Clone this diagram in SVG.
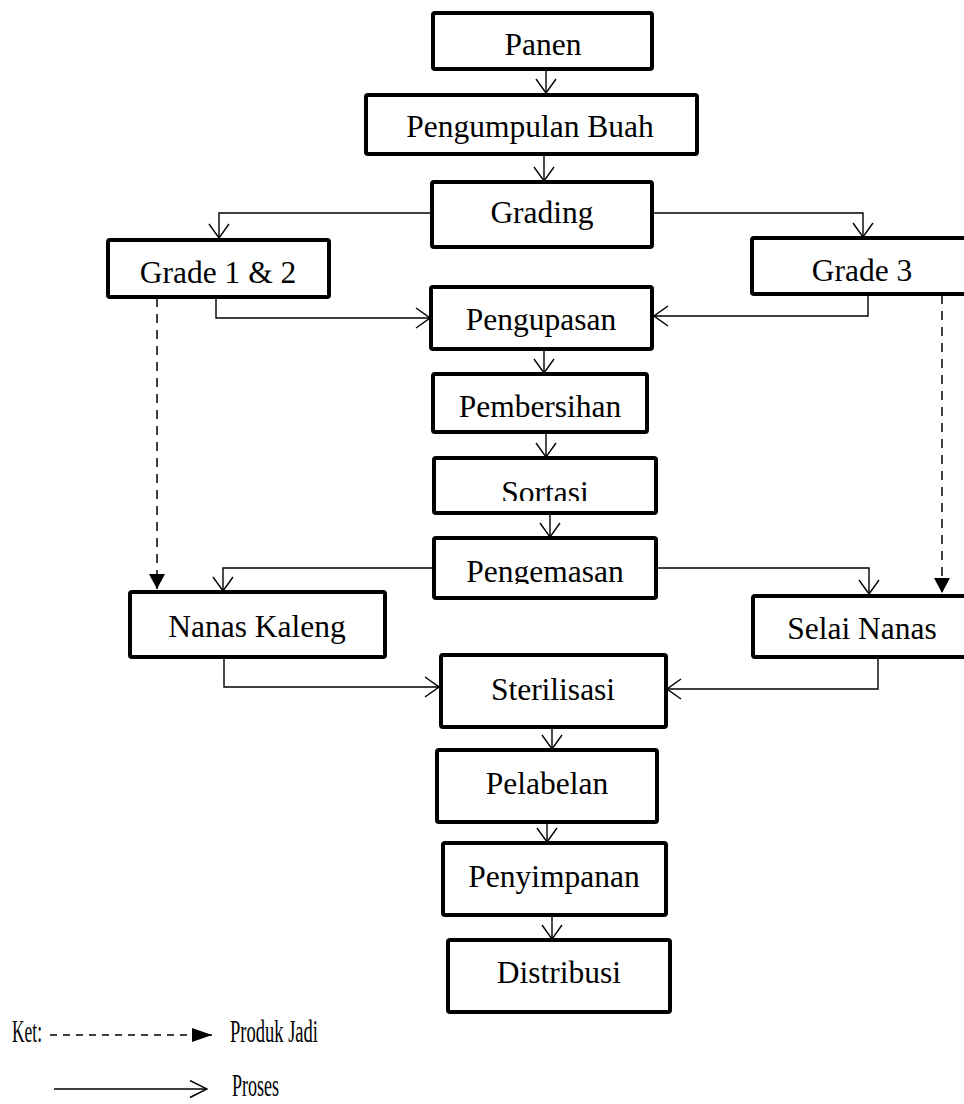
<svg xmlns="http://www.w3.org/2000/svg" width="964" height="1104" viewBox="0 0 964 1104">
<style>
.box{fill:#fff;stroke:#000;stroke-width:4;stroke-linejoin:round}
.t{font-family:"Liberation Serif","Times New Roman",serif;font-size:31.5px;fill:#000;text-anchor:middle}
.lg{font-family:"Liberation Serif","Times New Roman",serif;font-size:31px;fill:#000}
.c{fill:none;stroke:#000;stroke-width:1.4}
.d{fill:none;stroke:#000;stroke-width:1.5;stroke-dasharray:9 7}
</style>
<defs>
<marker id="open" viewBox="0 0 16 22" refX="15" refY="11" markerWidth="16" markerHeight="22" markerUnits="userSpaceOnUse" orient="auto">
<path d="M1,1 L15,11 L1,21" fill="none" stroke="#000" stroke-width="1.4"/>
</marker>
<marker id="fill" viewBox="0 0 15 16" refX="15" refY="8" markerWidth="15" markerHeight="16" markerUnits="userSpaceOnUse" orient="auto">
<path d="M0,0 L15,8 L0,16 Z" fill="#000"/>
</marker>
<marker id="fillL" viewBox="0 0 20 14" refX="20" refY="7" markerWidth="20" markerHeight="14" markerUnits="userSpaceOnUse" orient="auto">
<path d="M0,0 L20,7 L0,14 Z" fill="#000"/>
</marker>
<marker id="openL" viewBox="0 0 19 19" refX="18" refY="9.5" markerWidth="19" markerHeight="19" markerUnits="userSpaceOnUse" orient="auto">
<path d="M1,1 L18,9.5 L1,18" fill="none" stroke="#000" stroke-width="1.4"/>
</marker>
<clipPath id="clipSortasi"><rect x="430" y="455" width="230" height="46"/></clipPath>
<clipPath id="clipPengemasan"><rect x="430" y="535" width="230" height="49"/></clipPath>
</defs>

<g id="connectors">
<path class="c" d="M546,69 V93" marker-end="url(#open)"/>
<path class="c" d="M544,155 V181" marker-end="url(#open)"/>
<path class="c" d="M432,213 H219 V238" marker-end="url(#open)"/>
<path class="c" d="M652,213 H863 V237" marker-end="url(#open)"/>
<path class="c" d="M216,297 V318 H430" marker-end="url(#open)"/>
<path class="c" d="M868,294 V316 H654" marker-end="url(#open)"/>
<path class="c" d="M544,349 V373" marker-end="url(#open)"/>
<path class="c" d="M546,432 V457" marker-end="url(#open)"/>
<path class="c" d="M550,513 V537" marker-end="url(#open)"/>
<path class="c" d="M434,568 H223 V591" marker-end="url(#open)"/>
<path class="c" d="M656,568 H869 V594" marker-end="url(#open)"/>
<path class="c" d="M224,657 V687 H439" marker-end="url(#open)"/>
<path class="c" d="M878,657 V689 H667" marker-end="url(#open)"/>
<path class="c" d="M552,727 V749" marker-end="url(#open)"/>
<path class="c" d="M547,822 V842" marker-end="url(#open)"/>
<path class="c" d="M552,915 V939" marker-end="url(#open)"/>
<path class="d" d="M157,298 V589" marker-end="url(#fill)"/>
<path class="d" d="M942,295 V593" marker-end="url(#fill)"/>
</g>

<g id="panen"><rect class="box" x="433" y="13" width="219" height="56" rx="2"/><text class="t" x="543" y="55">Panen</text></g>
<g id="pengumpulan-buah"><rect class="box" x="366" y="95" width="331" height="59" rx="2"/><text class="t" x="530" y="137">Pengumpulan Buah</text></g>
<g id="grading"><rect class="box" x="432" y="182" width="220" height="65" rx="2"/><text class="t" x="542" y="223">Grading</text></g>
<g id="grade-1-2"><rect class="box" x="108" y="240" width="221" height="57" rx="2"/><text class="t" x="218" y="283">Grade 1 &amp; 2</text></g>
<g id="grade-3"><rect class="box" x="752" y="238" width="222" height="56" rx="2"/><text class="t" x="862" y="281">Grade 3</text></g>
<g id="pengupasan"><rect class="box" x="431" y="287" width="221" height="62" rx="2"/><text class="t" x="541" y="330">Pengupasan</text></g>
<g id="pembersihan"><rect class="box" x="433" y="374" width="214" height="58" rx="2"/><text class="t" x="540" y="417">Pembersihan</text></g>
<g id="sortasi"><rect class="box" x="434" y="458" width="222" height="55" rx="2"/><text class="t" x="545" y="503" clip-path="url(#clipSortasi)">Sortasi</text></g>
<g id="pengemasan"><rect class="box" x="434" y="538" width="222" height="60" rx="2"/><text class="t" x="545" y="582" clip-path="url(#clipPengemasan)">Pengemasan</text></g>
<g id="nanas-kaleng"><rect class="box" x="130" y="592" width="255" height="65" rx="2"/><text class="t" x="257" y="637">Nanas Kaleng</text></g>
<g id="selai-nanas"><rect class="box" x="753" y="596" width="221" height="61" rx="2"/><text class="t" x="862" y="639">Selai Nanas</text></g>
<g id="sterilisasi"><rect class="box" x="441" y="655" width="225" height="72" rx="2"/><text class="t" x="553" y="700">Sterilisasi</text></g>
<g id="pelabelan"><rect class="box" x="437" y="750" width="220" height="72" rx="2"/><text class="t" x="547" y="794">Pelabelan</text></g>
<g id="penyimpanan"><rect class="box" x="443" y="843" width="223" height="72" rx="2"/><text class="t" x="554" y="887">Penyimpanan</text></g>
<g id="distribusi"><rect class="box" x="448" y="940" width="222" height="72" rx="2"/><text class="t" x="559" y="983">Distribusi</text></g>

<g id="legend">
<text class="lg" x="12" y="1042" textLength="30" lengthAdjust="spacingAndGlyphs">Ket:</text>
<path d="M50,1035 H212" fill="none" stroke="#000" stroke-width="1.6" stroke-dasharray="7 6" marker-end="url(#fillL)"/>
<text class="lg" x="230" y="1042" textLength="88" lengthAdjust="spacingAndGlyphs">Produk Jadi</text>
<path class="c" d="M54,1089 H207" marker-end="url(#openL)"/>
<text class="lg" x="232" y="1096" textLength="47" lengthAdjust="spacingAndGlyphs">Proses</text>
</g>
</svg>
